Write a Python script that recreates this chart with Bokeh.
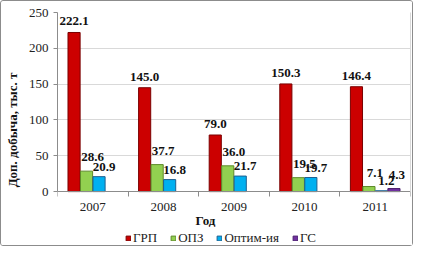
from bokeh.plotting import figure
from bokeh.models import ColumnDataSource, FixedTicker, Label, Legend, LegendItem, LinearAxis
from bokeh.transform import dodge
from bokeh.core.properties import value
from bokeh.embed import file_html
from bokeh.resources import INLINE

years = [2007, 2008, 2009, 2010, 2011]
year_labels = ["2007", "2008", "2009", "2010", "2011"]
grp = [222.1, 145.0, 79.0, 150.3, 146.4]
opz = [28.6, 37.7, 36.0, 19.5, 7.1]
optim = [20.9, 16.8, 21.7, 19.7, 1.2]
gs = [None, None, None, None, 4.3]
series_names = ["ГРП", "ОПЗ", "Оптим-ия", "ГС"]
y_ticks = [0, 50, 100, 150, 200, 250]
y_title = "Доп. добыча, тыс. т"
x_title = "Год"

FONT = "Times New Roman"
fills = ["#CC0000", "#92D050", "#00B0F0", "#7030A0"]
edges = ["#7A0000", "#5E8A2A", "#1F5F8F", "#4B1F6E"]
label_dx = [0, 6, 5, 3]
label_dy = [-11, -14, -10, -14]
bw = 0.177
offsets = [-1.5 * bw, -0.5 * bw, 0.5 * bw, 1.5 * bw]

# the frame extends below zero to hold the category labels, x title and legend
p = figure(width=413, height=246, output_backend="svg", toolbar_location=None,
           x_range=(2006.5, 2011.5), y_range=(-78, 250),
           min_border_left=51, min_border_right=4, min_border_top=11, min_border_bottom=0,
           background_fill_color="white", border_fill_color="white",
           outline_line_color=None)
p.styles = {"border": "1px solid #8c8c8c", "border-radius": "3px"}

items = []
for name, vals, fc, ec, off, dx, dy in zip(series_names, [grp, opz, optim, gs], fills, edges,
                                           offsets, label_dx, label_dy):
    xs = [y for y, v in zip(years, vals) if v is not None]
    vs = [v for v in vals if v is not None]
    src = ColumnDataSource(dict(x=xs, v=vs, t=[f"{v:.1f}" for v in vs]))
    r = p.vbar(x=dodge("x", off), top="v", width=bw * 0.97, bottom=0, source=src,
               fill_color=fc, line_color=ec, line_width=1)
    p.text(x=dodge("x", off), y="v", text="t", source=src, x_offset=dx, y_offset=dy,
           text_align="center", text_baseline="middle", text_font=value(FONT),
           text_font_size="13px", text_font_style="bold", text_color="#111111")
    items.append(LegendItem(label=name, renderers=[r]))

# grid
p.xgrid.grid_line_color = None
p.ygrid.grid_line_color = "#d9d9d9"
p.ygrid.ticker = FixedTicker(ticks=y_ticks)

# y axis (left panel), limited to 0..250
p.yaxis.ticker = FixedTicker(ticks=y_ticks)
p.yaxis.bounds = (0, 250)
p.yaxis.axis_line_color = "#8c8c8c"
p.yaxis.major_tick_line_color = "#8c8c8c"
p.yaxis.major_tick_out = 4
p.yaxis.major_tick_in = 0
p.yaxis.minor_tick_line_color = None
p.yaxis.major_label_standoff = 5
p.yaxis.major_label_text_font = FONT
p.yaxis.major_label_text_font_size = "13px"
p.yaxis.major_label_text_color = "#222222"
p.yaxis.axis_label = y_title
p.yaxis.axis_label_text_font = FONT
p.yaxis.axis_label_text_font_size = "13px"
p.yaxis.axis_label_text_font_style = "bold"
p.yaxis.axis_label_text_color = "#111111"
p.yaxis.axis_label_standoff = 6

# x axis drawn at y = 0 inside the frame
p.xaxis.fixed_location = 0
p.xaxis.ticker = FixedTicker(ticks=years, minor_ticks=[y + 0.5 for y in [2006] + years])
p.xaxis.major_label_overrides = {y: l for y, l in zip(years, year_labels)}
p.xaxis.axis_line_color = "#8c8c8c"
p.xaxis.major_tick_line_color = None
p.xaxis.major_tick_out = 0
p.xaxis.major_tick_in = 0
p.xaxis.minor_tick_line_color = "#8c8c8c"
p.xaxis.minor_tick_out = 5
p.xaxis.minor_tick_in = 0
p.xaxis.major_label_standoff = 6
p.xaxis.major_label_text_font = FONT
p.xaxis.major_label_text_font_size = "13px"
p.xaxis.major_label_text_color = "#222222"

# right border line of the plot area
right = LinearAxis(bounds=(0, 250), ticker=FixedTicker(ticks=[]),
                   axis_line_color="#d9d9d9", major_tick_line_color=None,
                   minor_tick_line_color=None, major_label_text_font_size="0px")
p.add_layout(right, "right")

# x title
p.add_layout(Label(x=2006.5, y=-40, x_offset=148, text=x_title,
                   text_align="center", text_baseline="middle", text_font=FONT,
                   text_font_size="13px", text_font_style="bold", text_color="#111111"))

legend = Legend(items=items, orientation="horizontal", location=(68, 1),
                glyph_width=6, glyph_height=6, label_standoff=2, spacing=13,
                label_text_font=FONT, label_text_font_size="13px", label_text_color="#222222",
                label_height=14, padding=0, margin=0,
                border_line_color=None, background_fill_alpha=0)
p.add_layout(legend, "center")

open("out.html", "w").write(file_html(p, INLINE))
